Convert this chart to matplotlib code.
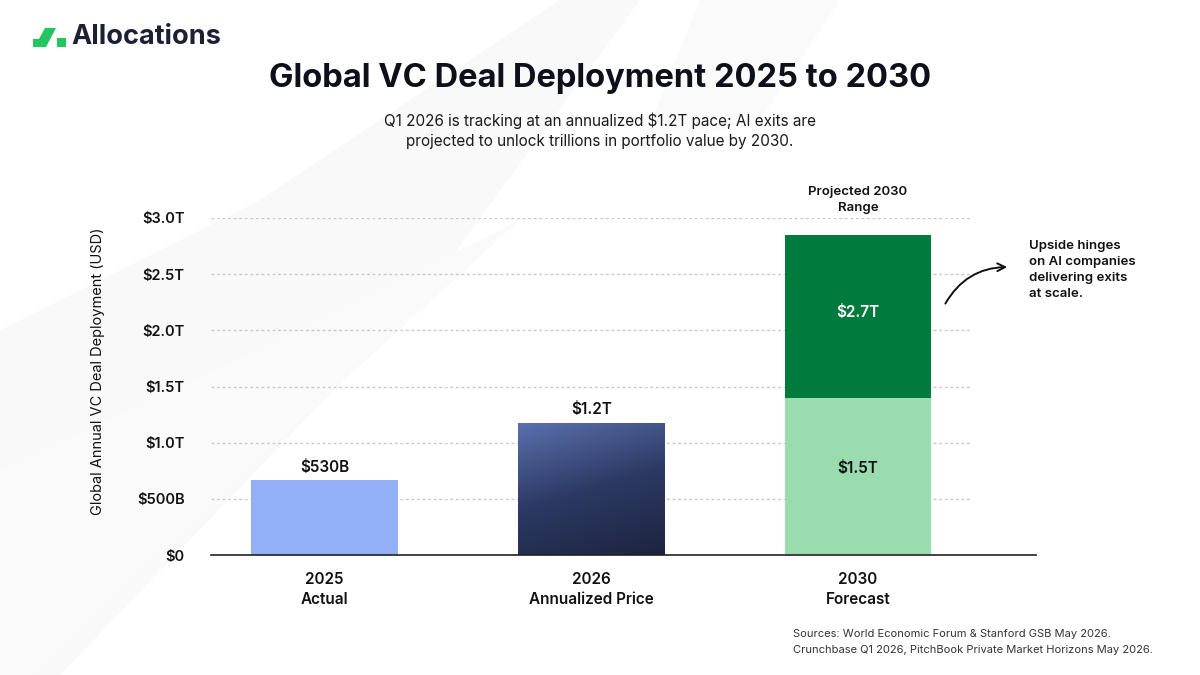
import matplotlib.pyplot as plt
import numpy as np
from matplotlib.colors import LinearSegmentedColormap
from matplotlib.patches import FancyArrowPatch, Polygon

plt.rcParams["font.family"] = ["Inter", "DejaVu Sans"]

# data
categories = ["2025\nActual", "2026\nAnnualized Price", "2030\nForecast"]
base_values = [0.67, 1.175, 1.40]
upside_values = [0.0, 0.0, 1.45]
value_labels = ["$530B", "$1.2T", "$1.5T"]
upside_label = "$2.7T"
y_ticks = [0, 0.5, 1.0, 1.5, 2.0, 2.5, 3.0]
y_tick_labels = ["$0", "$500B", "$1.0T", "$1.5T", "$2.0T", "$2.5T", "$3.0T"]

W, H = 1200, 675


def fx(px):
    return px / W


def fy(py):
    return 1 - py / H


fig = plt.figure(figsize=(12, 6.75), dpi=100)
fig.patch.set_facecolor("white")

# faint background swooshes
bg = fig.add_axes([0, 0, 1, 1], zorder=-10)
bg.set_xlim(0, W)
bg.set_ylim(H, 0)
bg.axis("off")
bg.add_patch(Polygon([(0, 330), (0, 675), (60, 675), (420, 300), (640, 0), (560, 0), (260, 200)],
                     closed=True, facecolor="#f9f9fa", edgecolor="none"))
bg.add_patch(Polygon([(0, 470), (0, 675), (30, 675), (300, 420), (520, 220), (300, 330)],
                     closed=True, facecolor="#fafafb", edgecolor="none"))
bg.add_patch(Polygon([(700, 0), (840, 0), (760, 120), (640, 150)],
                     closed=True, facecolor="#fafafb", edgecolor="none"))

# logo
bg.add_patch(Polygon([(33, 47), (33, 39), (39, 39), (45, 28), (56, 28), (46, 47)],
                     closed=True, facecolor="#22c55e", edgecolor="none"))
bg.add_patch(Polygon([(57, 38), (66, 38), (66, 47), (57, 47)],
                     closed=True, facecolor="#22c55e", edgecolor="none"))
fig.text(fx(71), fy(37), "Allocations", fontsize=19.5, fontweight="bold",
         color="#1c2035", va="center", ha="left")

# title + subtitle
fig.text(0.5, fy(78), "Global VC Deal Deployment 2025 to 2030", fontsize=23.5,
         fontweight="bold", color="#0d0f1a", ha="center", va="center")
fig.text(0.5, fy(131), "Q1 2026 is tracking at an annualized $1.2T pace; AI exits are\n"
         "projected to unlock trillions in portfolio value by 2030.",
         fontsize=11, color="#1a1a1a", ha="center", va="center", linespacing=1.45)

# main axes
ax = fig.add_axes([fx(211), fy(555), fx(1036 - 211), (555 - 218) / H])
ax.patch.set_alpha(0)
x = np.arange(len(categories))
width = 0.55
xlim = (-0.425, 2.667)
ylim = (0, 3.0)

for yv in y_ticks[1:]:
    ax.hlines(yv, xlim[0], 2.42, colors="#c9c9c9", linewidth=1.0,
              linestyles=(0, (2, 2)), zorder=0)

base_colors = ["#93aff5", "none", "#9adcb0"]
bars = ax.bar(x, base_values, width=width, color=base_colors, zorder=2)
ax.bar(x[2], upside_values[2], width=width, bottom=base_values[2],
       color="#007a3d", zorder=2)

# gradient fill for the 2026 bar
grad_bar = bars[1]
bx0, bw, bh = grad_bar.get_x(), grad_bar.get_width(), grad_bar.get_height()
gy, gx = np.mgrid[0:1:200j, 0:1:100j]
grad = 0.75 * gy + 0.25 * (1 - gx)
cmap = LinearSegmentedColormap.from_list("navy", ["#1d2440", "#2c3963", "#5a70ad"])
im = ax.imshow(grad, extent=(bx0, bx0 + bw, 0, bh), origin="lower",
               cmap=cmap, aspect="auto", zorder=2)
im.set_clip_path(grad_bar)

ax.set_xlim(*xlim)
ax.set_ylim(*ylim)

for s in ["top", "right", "left"]:
    ax.spines[s].set_visible(False)
ax.spines["bottom"].set_color("#222222")
ax.spines["bottom"].set_linewidth(1.2)
ax.spines["bottom"].set_zorder(3)

ax.set_yticks(y_ticks)
ax.set_yticklabels(y_tick_labels, fontsize=10.5, fontweight="semibold", color="#111111")
ax.tick_params(axis="y", length=0, pad=19)
ax.set_xticks(x)
ax.set_xticklabels(categories, fontsize=11, fontweight="semibold", color="#111111",
                   linespacing=1.45)
ax.tick_params(axis="x", length=0, pad=12)
ax.set_ylabel("Global Annual VC Deal Deployment (USD)", fontsize=10.5, color="#111111")
ax.yaxis.set_label_coords(-0.129, 0.545)

# value labels
ax.text(x[0], base_values[0] + 0.04, value_labels[0], ha="center", va="bottom",
        fontsize=11, fontweight="semibold", color="#111111")
ax.text(x[1], base_values[1] + 0.05, value_labels[1], ha="center", va="bottom",
        fontsize=11, fontweight="semibold", color="#111111")
ax.text(x[2], base_values[2] / 2 + 0.07, value_labels[2], ha="center", va="center",
        fontsize=11, fontweight="semibold", color="#111111")
ax.text(x[2], base_values[2] + upside_values[2] / 2 + 0.03, upside_label, ha="center",
        va="center", fontsize=11, fontweight="semibold", color="white")
ax.text(x[2], 3.16, "Projected 2030\nRange", ha="center", va="center", fontsize=9.5,
        fontweight="semibold", color="#111111", linespacing=1.5, clip_on=False)

# annotation
fig.text(fx(1029), fy(240), "Upside hinges\non AI companies\ndelivering exits\nat scale.",
         ha="left", va="top", fontsize=9.5, fontweight="semibold", color="#111111",
         linespacing=1.45)
arrow = FancyArrowPatch((fx(944), fy(306)), (fx(1010), fy(267)),
                        transform=fig.transFigure, arrowstyle="->", mutation_scale=14,
                        connectionstyle="arc3,rad=-0.3", color="#111111", linewidth=1.4)
fig.patches.append(arrow)

# sources
fig.text(fx(793), fy(642), "Sources: World Economic Forum & Stanford GSB May 2026.\n"
         "Crunchbase Q1 2026, PitchBook Private Market Horizons May 2026.",
         ha="left", va="center", fontsize=8, color="#333333", linespacing=1.65)

fig.savefig("out.png", dpi=100, facecolor=fig.get_facecolor())
